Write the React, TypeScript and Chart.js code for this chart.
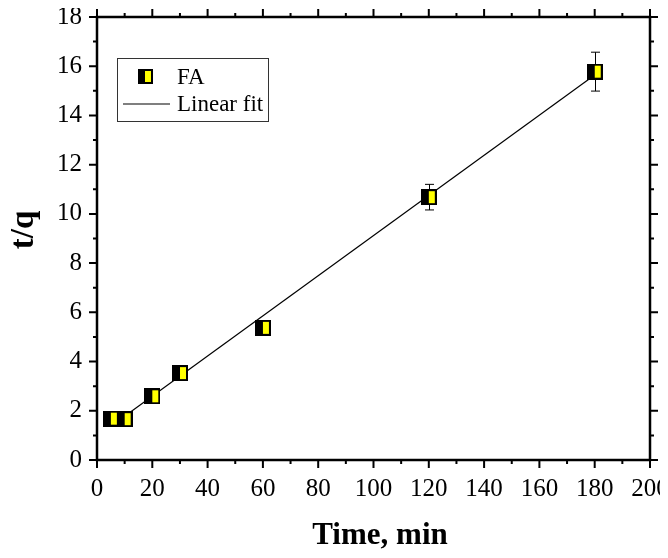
import React, { useEffect, useRef } from 'react';
import { Chart, registerables } from 'chart.js';

Chart.register(...registerables);

// ---- data ----
const timeMin = [5, 10, 20, 30, 60, 120, 180];
const tOverQ = [1.68, 1.66, 2.59, 3.53, 5.37, 10.68, 15.78];
const tOverQErr = [0.1, 0.1, 0.1, 0.12, 0.15, 0.52, 0.79];
const fitX = [5, 180];
const fitY = [1.37, 15.64];
const seriesLabel = 'FA';
const fitLabel = 'Linear fit';
const xTitle = 'Time, min';
const yTitle = 't/q';
const xMin = 0;
const xMax = 200;
const xStep = 20;
const yMin = 0;
const yMax = 18;
const yStep = 2;

const SERIF = "'Liberation Serif', 'Times New Roman', serif";

function makeMarker(size: number): HTMLCanvasElement {
  const c = document.createElement('canvas');
  c.width = size;
  c.height = size;
  const g = c.getContext('2d')!;
  g.fillStyle = '#000';
  g.fillRect(0, 0, size, size);
  g.fillStyle = '#ffff00';
  const b = 2;
  const start = Math.round(size * 0.47);
  g.fillRect(start, b, size - start - b, size - 2 * b);
  return c;
}

const framePlugin = {
  id: 'framePlugin',
  beforeDatasetsDraw(chart: any) {
    const { ctx, scales } = chart;
    const xs = scales.x;
    const ys = scales.y;
    ctx.save();
    ctx.strokeStyle = '#000';
    ctx.lineWidth = 1;
    timeMin.forEach((t, i) => {
      const px = Math.round(xs.getPixelForValue(t)) + 0.5;
      const yt = ys.getPixelForValue(tOverQ[i] + tOverQErr[i]);
      const yb = ys.getPixelForValue(tOverQ[i] - tOverQErr[i]);
      ctx.beginPath();
      ctx.moveTo(px, yt);
      ctx.lineTo(px, yb);
      ctx.moveTo(px - 4.5, yt);
      ctx.lineTo(px + 4.5, yt);
      ctx.moveTo(px - 4.5, yb);
      ctx.lineTo(px + 4.5, yb);
      ctx.stroke();
    });
    ctx.restore();
  },
  afterDatasetsDraw(chart: any) {
    const { ctx, chartArea, scales } = chart;
    const { left, right, top, bottom } = chartArea;
    const xs = scales.x;
    const ys = scales.y;
    ctx.save();
    ctx.strokeStyle = '#000';
    // ticks
    ctx.lineWidth = 2;
    const majLen = 8;
    const minLen = 4;
    const xVals = xs.ticks.map((t: any) => t.value);
    const yVals = ys.ticks.map((t: any) => t.value);
    const drawX = (v: number, len: number) => {
      const p = xs.getPixelForValue(v);
      ctx.beginPath();
      ctx.moveTo(p, bottom);
      ctx.lineTo(p, bottom + len);
      ctx.moveTo(p, top);
      ctx.lineTo(p, top - len);
      ctx.stroke();
    };
    const drawY = (v: number, len: number) => {
      const p = ys.getPixelForValue(v);
      ctx.beginPath();
      ctx.moveTo(left, p);
      ctx.lineTo(left - len, p);
      ctx.moveTo(right, p);
      ctx.lineTo(right + len, p);
      ctx.stroke();
    };
    xVals.forEach((v: number, i: number) => {
      drawX(v, majLen);
      if (i < xVals.length - 1) drawX((v + xVals[i + 1]) / 2, minLen);
    });
    yVals.forEach((v: number, i: number) => {
      drawY(v, majLen);
      if (i < yVals.length - 1) drawY((v + yVals[i + 1]) / 2, minLen);
    });
    // frame
    ctx.lineWidth = 2.5;
    ctx.strokeRect(left, top, right - left, bottom - top);

    // legend
    const bx = left + 20;
    const by = top + 41;
    const bw = 151;
    const bh = 63;
    ctx.lineWidth = 1;
    ctx.strokeStyle = '#333';
    ctx.strokeRect(bx + 0.5, by + 0.5, bw, bh);
    const lm = makeMarker(15);
    ctx.drawImage(lm, Math.round(bx + 28.5 - 7.5), Math.round(by + 18.5 - 7.5));
    ctx.strokeStyle = '#000';
    ctx.lineWidth = 1.2;
    ctx.beginPath();
    ctx.moveTo(bx + 6, by + 46);
    ctx.lineTo(bx + 53, by + 46);
    ctx.stroke();
    ctx.fillStyle = '#000';
    ctx.font = `23px ${SERIF}`;
    ctx.textAlign = 'left';
    ctx.textBaseline = 'middle';
    ctx.fillText(chart.data.datasets[0].label, bx + 60, by + 20);
    ctx.fillText(chart.data.datasets[1].label, bx + 60, by + 47);

    // axis titles
    ctx.font = `bold 31px ${SERIF}`;
    ctx.textAlign = 'center';
    ctx.textBaseline = 'alphabetic';
    ctx.fillText(xTitle, 372, 536);
    ctx.font = `bold 33px ${SERIF}`;
    ctx.translate(25, 222);
    ctx.rotate(-Math.PI / 2);
    ctx.fillText(yTitle, 0, 0);
    ctx.restore();
  },
};

export default function App() {
  const ref = useRef<HTMLCanvasElement>(null);
  useEffect(() => {
    if (!ref.current) return;
    const marker = makeMarker(16);
    const chart = new Chart(ref.current, {
      type: 'scatter',
      data: {
        datasets: [
          {
            label: seriesLabel,
            data: timeMin.map((t, i) => ({ x: t, y: tOverQ[i] })),
            pointStyle: marker as any,
            pointRadius: 8,
            order: 0,
          },
          {
            type: 'line',
            label: fitLabel,
            data: fitX.map((t, i) => ({ x: t, y: fitY[i] })),
            borderColor: '#000',
            borderWidth: 1.2,
            pointRadius: 0,
            fill: false,
            order: 1,
          } as any,
        ],
      },
      options: {
        responsive: false,
        animation: false,
        devicePixelRatio: 1,
        layout: { padding: { top: 7, right: 10, left: 0, bottom: 0 } },
        plugins: {
          legend: { display: false },
          tooltip: { enabled: false },
        },
        scales: {
          x: {
            type: 'linear',
            min: xMin,
            max: xMax,
            ticks: {
              stepSize: xStep,
              padding: 14,
              color: '#000',
              maxRotation: 0,
              autoSkip: false,
              font: { family: SERIF, size: 25 },
            },
            grid: { display: false, drawTicks: false },
            border: { display: false },
            afterFit(s: any) {
              s.height = 90;
              s.paddingLeft = 0;
              s.paddingRight = 0;
            },
          },
          y: {
            type: 'linear',
            min: yMin,
            max: yMax,
            ticks: {
              stepSize: yStep,
              padding: 15,
              color: '#000',
              autoSkip: false,
              font: { family: SERIF, size: 25 },
            },
            grid: { display: false, drawTicks: false },
            border: { display: false },
            afterFit(s: any) {
              s.width = 89;
              s.paddingTop = 0;
              s.paddingBottom = 0;
            },
          },
        },
      },
      plugins: [framePlugin],
    });
    return () => chart.destroy();
  }, []);
  return (
    <div style={{ width: 652, height: 542 }}>
      <canvas ref={ref} width={652} height={542} style={{ display: 'block' }} />
    </div>
  );
}
